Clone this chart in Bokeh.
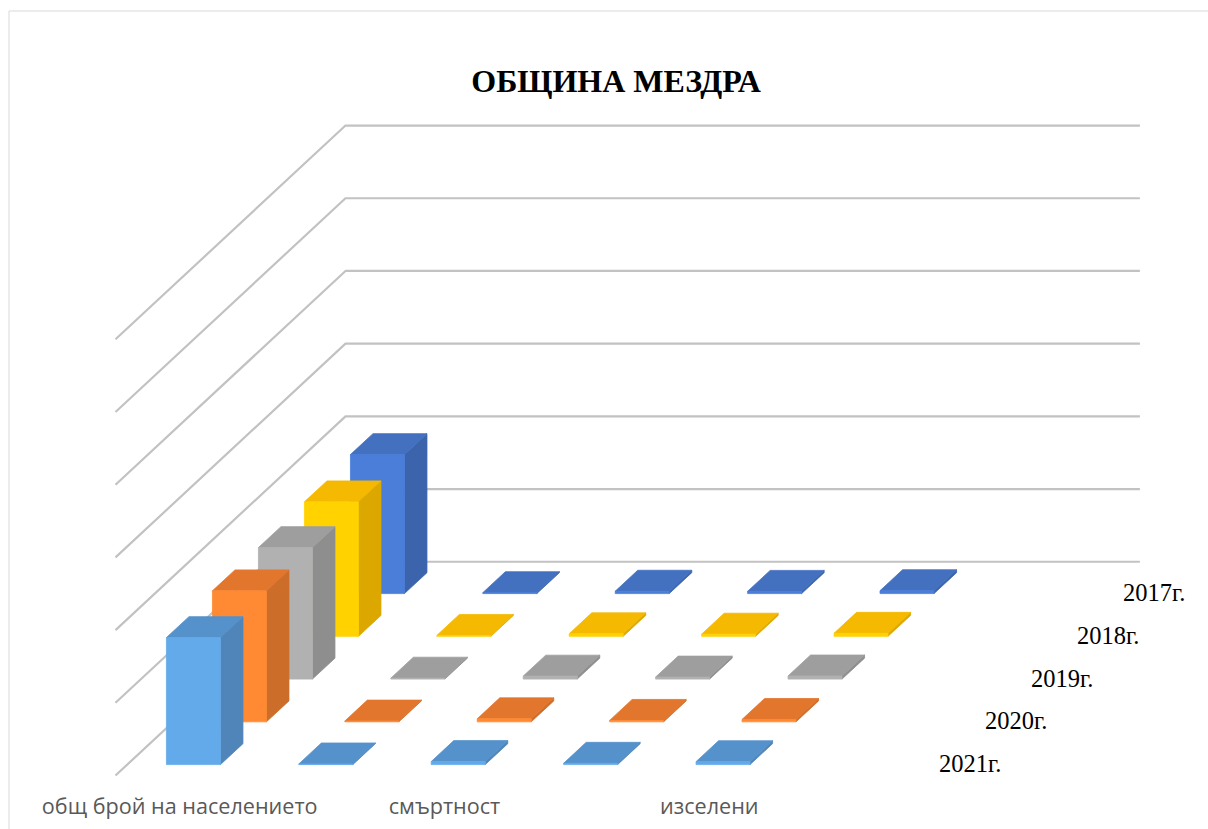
from bokeh.plotting import figure
from bokeh.models import Range1d, ColumnDataSource
from bokeh.core.properties import value
from bokeh.embed import file_html
from bokeh.resources import INLINE

title = "ОБЩИНА МЕЗДРА"
cat_labels = ["общ брой на населението", "", "смъртност", "", "изселени", ""]
years = ["2021г.", "2020г.", "2019г.", "2018г.", "2017г."]
val_2021 = [17470, 90, 420, 180, 400]
val_2020 = [18020, 110, 420, 200, 330]
val_2019 = [18090, 130, 410, 280, 430]
val_2018 = [18500, 130, 350, 300, 420]
val_2017 = [19120, 130, 330, 310, 400]
series_vals = [val_2021, val_2020, val_2019, val_2018, val_2017]
front = ["#63AAEA", "#FF8A33", "#B1B1B1", "#FFD200", "#4A7ED9"]
side = ["#5085BA", "#CC6D2A", "#8E8E8E", "#DCA800", "#3B64AD"]
top = ["#5592CB", "#E3762D", "#9E9E9E", "#F4B900", "#4470C0"]
grid_values = [0, 10000, 20000, 30000, 40000, 50000, 60000]

# oblique projection of (category, depth, value) on to the picture
X0, Y0 = 115.0, 775.0
CAT, DX, DY = 132.4, 46.0, 42.75
PER_UNIT = 72.7 / 10000
BAR_W, BAR_D = 54 / 132.4, 0.49

def proj(c, s, v=0.0):
    return (X0 + c * CAT + s * DX, Y0 - s * DY - v * PER_UNIT)

W, H = 1208, 829
p = figure(width=W, height=H, x_range=Range1d(0, W), y_range=Range1d(H, 0),
           output_backend="svg", toolbar_location=None, min_border=0)
p.axis.visible = False
p.grid.visible = False
p.outline_line_color = None
p.background_fill_color = "white"

# chart frame: only the left and top edges fall inside the picture
p.line([8.5, 8.5, W], [H, 10.5, 10.5], line_color="#D9D9D9", line_width=1)

# walls
n_cat, n_ser = len(cat_labels), len(years)
gx, gy = [], []
for g in grid_values:
    a, b, c = proj(0, 0, g), proj(0, n_ser, g), proj(n_cat, n_ser, g)
    gx.append([a[0], b[0], c[0]])
    gy.append([a[1], b[1], c[1]])
p.multi_line(gx, gy, line_color="#C2C2C2", line_width=2.2)

# bars, back to front
xs, ys, fills = [], [], []
for s in range(n_ser - 1, -1, -1):
    for c, v in enumerate(series_vals[s]):
        c0 = c + (1 - BAR_W) / 2
        c1 = c0 + BAR_W
        s0 = s + (1 - BAR_D) / 2
        s1 = s0 + BAR_D
        faces = [
            ([proj(c1, s0, 0), proj(c1, s1, 0), proj(c1, s1, v), proj(c1, s0, v)], side[s]),
            ([proj(c0, s0, v), proj(c1, s0, v), proj(c1, s1, v), proj(c0, s1, v)], top[s]),
            ([proj(c0, s0, 0), proj(c1, s0, 0), proj(c1, s0, v), proj(c0, s0, v)], front[s]),
        ]
        for pts, col in faces:
            xs.append([q[0] for q in pts])
            ys.append([q[1] for q in pts])
            fills.append(col)
p.patches("xs", "ys", fill_color="fills", line_color="fills", line_width=0.8,
          source=ColumnDataSource(dict(xs=xs, ys=ys, fills=fills)))

# category labels
lab = [(proj(i + 0.5, 0)[0] - 2, t) for i, t in enumerate(cat_labels) if t]
p.text([q[0] for q in lab], [805] * len(lab), text=[q[1] for q in lab], text_align="center",
       text_baseline="middle", text_font=value("Open Sans"), text_font_size="21.6px", text_color="#595959")

# depth labels
pos = [proj(n_cat, s) for s in range(n_ser)]
p.text([q[0] + 29 for q in pos], [q[1] - 12 for q in pos], text=years, text_align="left",
       text_baseline="middle", text_font=value("Liberation Serif"), text_font_size="24.5px", text_color="#000000")

# title
p.text([615.5], [80], text=[title], text_align="center", text_baseline="middle",
       text_font=value("Liberation Serif"), text_font_style="bold", text_font_size="32px", text_color="#000000")

open("out.html", "w").write(file_html(p, INLINE))
